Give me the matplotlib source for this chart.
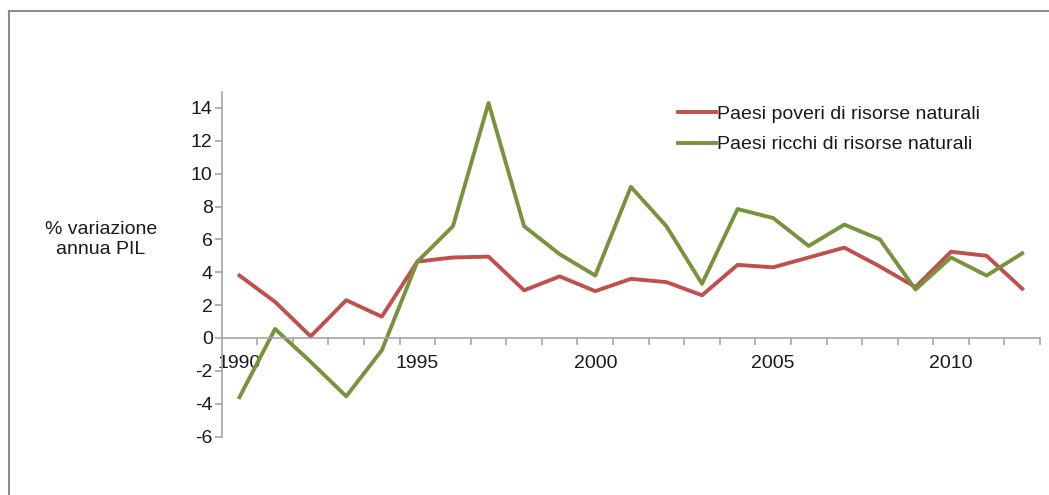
import matplotlib
matplotlib.use("Agg")
import matplotlib.pyplot as plt
from matplotlib.lines import Line2D
from matplotlib.ticker import FixedLocator, NullFormatter

plt.rcParams['font.family'] = ['Liberation Sans', 'DejaVu Sans']
plt.rcParams['axes.unicode_minus'] = False

years = list(range(1990, 2013))
poveri = [3.8, 2.2, 0.1, 2.3, 1.3, 4.65, 4.9, 4.95, 2.9, 3.75, 2.85, 3.6, 3.4, 2.6,
          4.45, 4.3, 4.9, 5.5, 4.35, 3.1, 5.25, 5.0, 3.0]
ricchi = [-3.6, 0.55, -1.45, -3.55, -0.75, 4.65, 6.8, 14.3, 6.8, 5.1, 3.8, 9.2, 6.8, 3.3,
          7.85, 7.3, 5.6, 6.9, 6.0, 2.95, 4.9, 3.8, 5.15]
label_poveri = "Paesi poveri di risorse naturali"
label_ricchi = "Paesi ricchi di risorse naturali"
year_labels = [1990, 1995, 2000, 2005, 2010]

W, H = 1049, 495
fig = plt.figure(figsize=(W / 100, H / 100), dpi=100)
ax = fig.add_axes([221.7 / W, 1 - 436.6 / H, (1040 - 221.7) / W, (436.6 - 91.5) / H])

red = "#c0504d"
green = "#77933c"
axis_col = "#a6a6a6"
txt = "#1a1a1a"
fs = 14

ax.plot(years, poveri, color=red, lw=2.8, label=label_poveri)
ax.plot(years, ricchi, color=green, lw=2.8, label=label_ricchi)

ax.set_xlim(years[0] - 0.5, years[-1] + 0.5)
ax.set_ylim(-6, 15)
ax.set_yticks(range(-6, 15, 2))

# x axis crosses at zero, tick marks sit between the categories
ax.spines['bottom'].set_position(('data', 0))
for s in ['top', 'right']:
    ax.spines[s].set_visible(False)
for s in ['left', 'bottom']:
    ax.spines[s].set_color(axis_col)
    ax.spines[s].set_linewidth(1.2)

ax.xaxis.set_major_locator(FixedLocator([y + 0.5 for y in years]))
ax.xaxis.set_major_formatter(NullFormatter())
ax.xaxis.set_minor_locator(FixedLocator(year_labels))
ax.set_xticklabels([str(y) for y in year_labels], minor=True)
ax.tick_params(axis='x', which='major', direction='out', length=5, width=1.2, color=axis_col)
ax.tick_params(axis='x', which='minor', length=0, pad=12.5, labelsize=fs, labelcolor=txt)
ax.tick_params(axis='y', direction='out', length=5, width=1.2, color=axis_col,
               labelsize=fs, labelcolor=txt, pad=1.5)

fig.text(101 / W, 1 - 239.5 / H, "% variazione\nannua PIL", ha='center', va='center',
         fontsize=fs, color=txt, linespacing=1.2)

leg = ax.legend(loc='upper left', bbox_to_anchor=(678 / W, 1 - 105 / H),
                bbox_transform=fig.transFigure, frameon=False, fontsize=fs,
                handlelength=1.95, handletextpad=0.08, labelspacing=0.68,
                borderpad=0, borderaxespad=0)
for t in leg.get_texts():
    t.set_color(txt)

# grey frame around the chart area (left and top edges)
border = "#8c8c8c"
fig.add_artist(Line2D([8.5 / W, 8.5 / W], [0, 1 - 11 / H], transform=fig.transFigure,
                      color=border, lw=1.5))
fig.add_artist(Line2D([8.5 / W, 1], [1 - 11 / H, 1 - 11 / H], transform=fig.transFigure,
                      color=border, lw=1.5))

fig.savefig("out.png", dpi=100)
